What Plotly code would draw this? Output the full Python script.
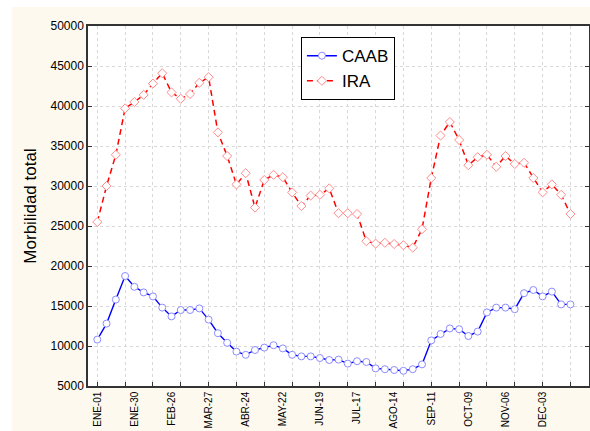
import plotly.graph_objects as go

weeks = list(range(52))

caab = [10800, 12800, 15800, 18750, 17400, 16700, 16200, 14800, 13700, 14500,
        14500, 14700, 13300, 11600, 10400, 9300, 8900, 9500, 9800, 10100,
        9700, 8900, 8700, 8700, 8500, 8250, 8300, 7800, 8100, 8000,
        7200, 7100, 7000, 6900, 7100, 7700, 10700, 11500, 12200, 12100,
        11250, 11800, 14200, 14800, 14800, 14600, 16600, 17000, 16200, 16800,
        15200, 15200]

ira = [25500, 30000, 33900, 39700, 40500, 41400, 42800, 44100, 41700, 40900,
       41500, 42900, 43600, 36700, 33750, 30200, 31600, 27300, 30750, 31400,
       31100, 29200, 27500, 28800, 28900, 29700, 26600, 26600, 26500, 23100,
       22800, 22900, 22750, 22600, 22300, 24600, 31000, 36300, 38000, 35750,
       32600, 33600, 33900, 32400, 33750, 32750, 32900, 31000, 29200, 30200,
       28900, 26500]

label_weeks = [0, 4, 8, 12, 16, 20, 24, 28, 32, 36, 40, 44, 48]
label_text = ["ENE-01", "ENE-30", "FEB-26", "MAR-27", "ABR-24", "MAY-22", "JUN-19",
              "JUL-17", "AGO-14", "SEP-11", "OCT-09", "NOV-06", "DEC-03"]
grid_weeks = list(range(0, 52, 3))
y_ticks = list(range(5000, 50001, 5000))

fig = go.Figure()
fig.add_trace(go.Scatter(
    x=weeks, y=caab, name="CAAB", mode="lines+markers",
    line=dict(color="#0000ff", width=1.4),
    marker=dict(symbol="circle", size=7, color="white",
                line=dict(color="#8c8cff", width=1)),
))
fig.add_trace(go.Scatter(
    x=weeks, y=ira, name="IRA", mode="lines+markers",
    line=dict(color="#ff0000", width=1.5, dash="6px,4px"),
    marker=dict(symbol="diamond", size=7, color="white",
                line=dict(color="#ff8c8c", width=1)),
))

grid_col = "#d8d8d8"
fig.update_layout(
    width=590, height=431,
    margin=dict(l=88, r=1, t=26, b=45),
    paper_bgcolor="white",
    plot_bgcolor="white",
    font=dict(family="Arial, Liberation Sans, sans-serif", color="black", size=12),
    showlegend=True,
    legend=dict(x=0.425, y=0.969, xanchor="left", yanchor="top",
                bgcolor="white", bordercolor="black", borderwidth=1,
                font=dict(size=17), itemwidth=30, tracegroupgap=0),
    shapes=[
        dict(type="rect", xref="paper", yref="paper", x0=-0.152, x1=1.01,
             y0=-0.13, y1=1.0528, fillcolor="#fdf9ee", line=dict(width=0),
             layer="below"),
        dict(type="rect", xref="paper", yref="paper", x0=0, x1=1,
             y0=0, y1=1, fillcolor="white", line=dict(width=0),
             layer="below"),
    ],
)
fig.update_xaxes(
    range=[-1, 53], automargin=False,
    tickmode="array", tickvals=label_weeks, ticktext=label_text,
    tickangle=-90, tickfont=dict(size=10),
    ticks="", showgrid=False, zeroline=False,
    showline=True, linecolor="#333333", linewidth=1.5, mirror=True,
    minor=dict(tickmode="array", tickvals=grid_weeks, ticks="inside", ticklen=4,
               tickcolor="#333333", showgrid=True, gridcolor=grid_col,
               griddash="dot", gridwidth=1),
)
fig.update_yaxes(
    range=[5000, 50000], automargin=False,
    tickmode="array", tickvals=y_ticks, tickformat="d",
    ticks="inside", ticklen=4, tickcolor="#333333",
    showgrid=True, gridcolor=grid_col, griddash="dot", gridwidth=1,
    zeroline=False,
    showline=True, linecolor="#333333", linewidth=1.5, mirror="ticks",
    tickfont=dict(size=12),
    title=dict(text="Morbilidad total", font=dict(size=17), standoff=10),
)

fig.write_html("out.html", config={"displayModeBar": False},
               post_script="document.body.style.margin='0';document.body.style.padding='0';")
